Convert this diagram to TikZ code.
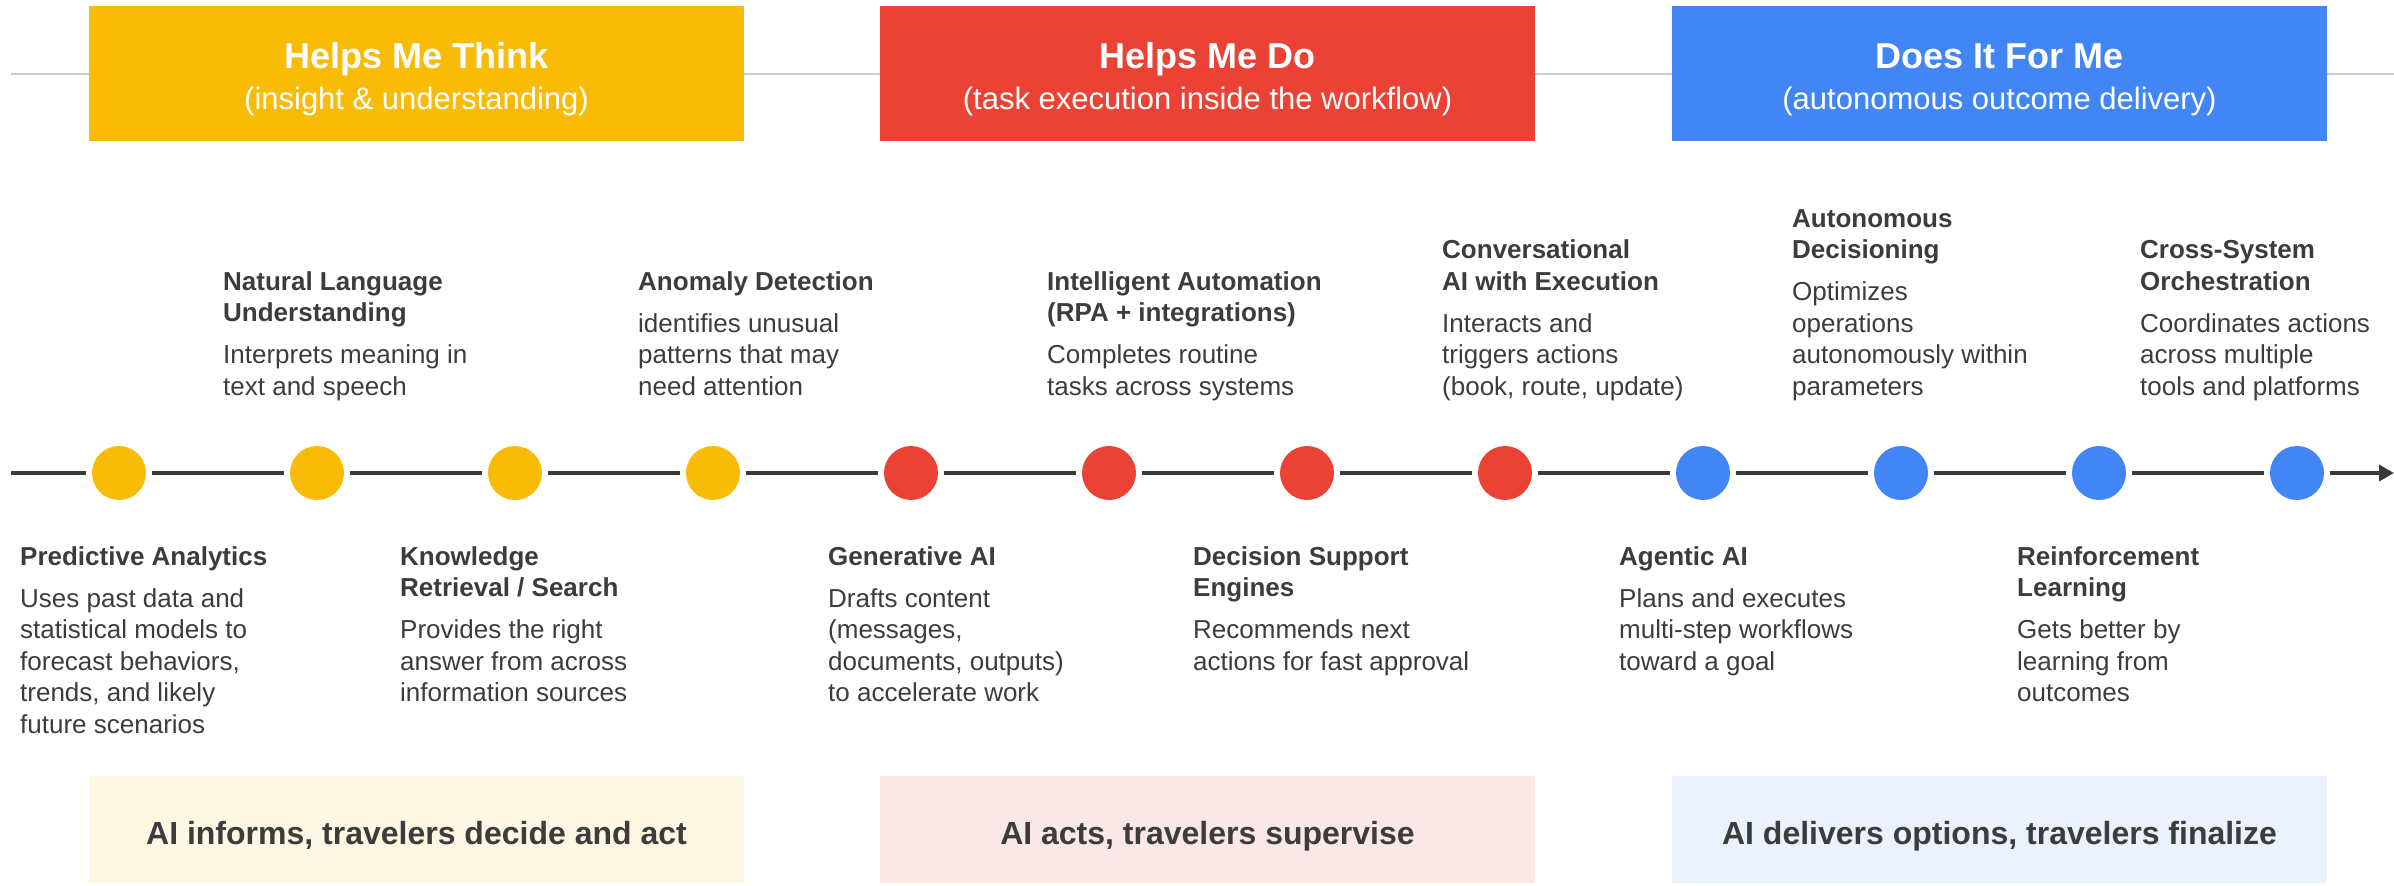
\documentclass[tikz,border=0pt]{standalone}
\usepackage{fontspec}
\setmainfont{Liberation Sans}
\usetikzlibrary{arrows.meta}

\definecolor{gyellow}{HTML}{F9BC06}
\definecolor{gred}{HTML}{EA4335}
\definecolor{gblue}{HTML}{4285F4}
\definecolor{pyellow}{HTML}{FEF7E3}
\definecolor{pred}{HTML}{FAE7E7}
\definecolor{pblue}{HTML}{EBF1FD}
\definecolor{ink}{HTML}{3C3C3C}
\definecolor{axis}{HTML}{3A3A3A}
\definecolor{rule}{HTML}{CCCCCC}

% two-part text: bold title lines, a small gap, then body lines
\newcommand{\cardtext}[2]{\begin{tabular}[t]{@{}l@{}}#1\\[10.5pt]#2\end{tabular}}

\begin{document}
\begin{tikzpicture}[x=1pt,y=-1pt,
  phase/.style={rectangle, minimum width=655pt, minimum height=135pt, inner sep=0pt},
  band/.style={rectangle, minimum width=655pt, minimum height=107pt, inner sep=0pt},
  phasetitle/.style={anchor=base, inner sep=0pt, text=white, font=\fontsize{36}{40}\selectfont\bfseries},
  phasesub/.style={anchor=base, inner sep=0pt, text=white, font=\fontsize{31}{36}\selectfont},
  bandtext/.style={anchor=base, inner sep=0pt, text=ink, font=\fontsize{32}{36}\selectfont\bfseries},
  card/.style={anchor=base west, inner sep=0pt, text=ink, font=\fontsize{26}{31.5}\selectfont},
  dot/.style={circle, minimum size=54pt, inner sep=0pt, outer sep=6pt},
  seg/.style={draw=axis, line width=4pt},
]
\useasboundingbox (0,0) rectangle (2394,886);

% thin rule behind the phase headers
\coordinate (rl) at (11,74);
\coordinate (rr) at (2394,74);
\draw[rule, line width=2.5pt] (rl) -- (rr);

% phase headers
\node[phase, fill=gyellow] (h1) at (416.5,73.5) {};
\node[phase, fill=gred]    (h2) at (1207.5,73.5) {};
\node[phase, fill=gblue]   (h3) at (1999.5,73.5) {};
\node[phasetitle] (h1t) at (416.5,68) {Helps Me Think};
\node[phasesub]   (h1s) at (416.5,109) {(insight \& understanding)};
\node[phasetitle] (h2t) at (1207.5,68) {Helps Me Do};
\node[phasesub]   (h2s) at (1207.5,109) {(task execution inside the workflow)};
\node[phasetitle] (h3t) at (1999.5,68) {Does It For Me};
\node[phasesub]   (h3s) at (1999.5,109) {(autonomous outcome delivery)};

% bottom bands
\node[band, fill=pyellow] (b1) at (416.5,829.5) {};
\node[band, fill=pred]    (b2) at (1207.5,829.5) {};
\node[band, fill=pblue]   (b3) at (1999.5,829.5) {};
\node[bandtext] (b1t) at (416.5,844) {AI informs, travelers decide and act};
\node[bandtext] (b2t) at (1207.5,844) {AI acts, travelers supervise};
\node[bandtext] (b3t) at (1999.5,844) {AI delivers options, travelers finalize};

% timeline dots
\node[dot, fill=gyellow] (d1)  at (119,473) {};
\node[dot, fill=gyellow] (d2)  at (317,473) {};
\node[dot, fill=gyellow] (d3)  at (515,473) {};
\node[dot, fill=gyellow] (d4)  at (713,473) {};
\node[dot, fill=gred]    (d5)  at (911,473) {};
\node[dot, fill=gred]    (d6)  at (1109,473) {};
\node[dot, fill=gred]    (d7)  at (1307,473) {};
\node[dot, fill=gred]    (d8)  at (1505,473) {};
\node[dot, fill=gblue]   (d9)  at (1703,473) {};
\node[dot, fill=gblue]   (d10) at (1901,473) {};
\node[dot, fill=gblue]   (d11) at (2099,473) {};
\node[dot, fill=gblue]   (d12) at (2297,473) {};

% timeline axis
\coordinate (ts) at (11,473);
\coordinate (te) at (2394,473);
\draw[seg] (ts) -- (d1);
\draw[seg] (d1) -- (d2);
\draw[seg] (d2) -- (d3);
\draw[seg] (d3) -- (d4);
\draw[seg] (d4) -- (d5);
\draw[seg] (d5) -- (d6);
\draw[seg] (d6) -- (d7);
\draw[seg] (d7) -- (d8);
\draw[seg] (d8) -- (d9);
\draw[seg] (d9) -- (d10);
\draw[seg] (d10) -- (d11);
\draw[seg] (d11) -- (d12);
\draw[seg, -{Triangle[length=15pt,width=16pt]}] (d12) -- (te);

% capabilities below the axis
\node[card] (c1) at (20,565) {\cardtext{\textbf{Predictive Analytics}}{Uses past data and\\statistical models to\\forecast behaviors,\\trends, and likely\\future scenarios}};
\node[card] (c3) at (400,565) {\cardtext{\textbf{Knowledge}\\\textbf{Retrieval / Search}}{Provides the right\\answer from across\\information sources}};
\node[card] (c5) at (828,565) {\cardtext{\textbf{Generative AI}}{Drafts content\\(messages,\\documents, outputs)\\to accelerate work}};
\node[card] (c7) at (1193,565) {\cardtext{\textbf{Decision Support}\\\textbf{Engines}}{Recommends next\\actions for fast approval}};
\node[card] (c9) at (1619,565) {\cardtext{\textbf{Agentic AI}}{Plans and executes\\multi-step workflows\\toward a goal}};
\node[card] (c11) at (2017,565) {\cardtext{\textbf{Reinforcement}\\\textbf{Learning}}{Gets better by\\learning from\\outcomes}};

% capabilities above the axis
\node[card] (c2) at (223,290) {\cardtext{\textbf{Natural Language}\\\textbf{Understanding}}{Interprets meaning in\\text and speech}};
\node[card] (c4) at (638,290) {\cardtext{\textbf{Anomaly Detection}}{identifies unusual\\patterns that may\\need attention}};
\node[card] (c6) at (1047,290) {\cardtext{\textbf{Intelligent Automation}\\\textbf{(RPA + integrations)}}{Completes routine\\tasks across systems}};
\node[card] (c8) at (1442,258.5) {\cardtext{\textbf{Conversational}\\\textbf{AI with Execution}}{Interacts and\\triggers actions\\(book, route, update)}};
\node[card] (c10) at (1792,227) {\cardtext{\textbf{Autonomous}\\\textbf{Decisioning}}{Optimizes\\operations\\autonomously within\\parameters}};
\node[card] (c12) at (2140,258.5) {\cardtext{\textbf{Cross-System}\\\textbf{Orchestration}}{Coordinates actions\\across multiple\\tools and platforms}};
\end{tikzpicture}
\end{document}
